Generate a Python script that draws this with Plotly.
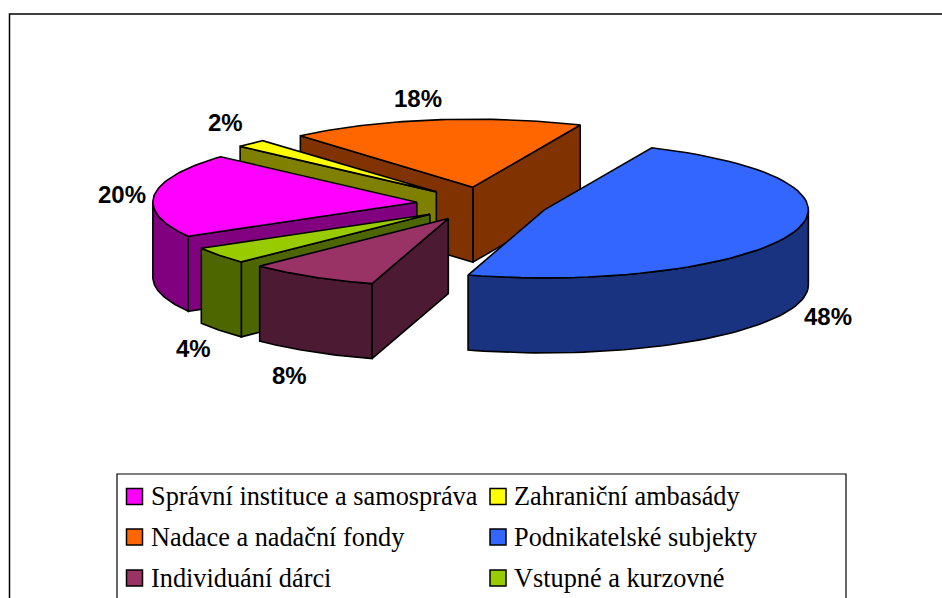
import numpy as np
import plotly.graph_objects as go

categories = ["Nadace a nadační fondy", "Zahraniční ambasády", "Správní instituce a samospráva",
              "Vstupné a kurzovné", "Individuání dárci", "Podnikatelské subjekty"]
values = [18, 2, 20, 4, 8, 48]
top_colors = ["#FF6600", "#FFFF00", "#FF00FF", "#99CC00", "#993366", "#3366FF"]
wall_colors = ["#803300", "#808000", "#800080", "#4D6600", "#4D1A33", "#1A3380"]

legend_order = ["Správní instituce a samospráva", "Zahraniční ambasády", "Nadace a nadační fondy",
                "Podnikatelské subjekty", "Individuání dárci", "Vstupné a kurzovné"]
label_pos = {"Nadace a nadační fondy": (418, 98), "Zahraniční ambasády": (225, 122),
             "Správní instituce a samospráva": (122, 194), "Vstupné a kurzovné": (193, 348),
             "Individuání dárci": (289, 375), "Podnikatelské subjekty": (828, 316)}

CX, CY, RX, RY, DEPTH, PULL = 482.5, 204.0, 264.0, 68.0, 75.0, 0.25
START = 66.0

fig = go.Figure()
BLACK = dict(color="black", width=1.6)


def poly(xs, ys, fill):
    fig.add_trace(go.Scatter(x=xs, y=ys, mode="lines", fill="toself", fillcolor=fill,
                             line=BLACK, hoverinfo="skip", showlegend=False))


a0 = START
for name, val, top, wall in zip(categories, values, top_colors, wall_colors):
    a1 = a0 + val * 3.6
    mid = np.radians((a0 + a1) / 2)
    cx = CX + PULL * RX * np.cos(mid)
    cy = CY - PULL * RY * np.sin(mid)
    lo, hi = sorted((a0, a1))
    t = np.radians(np.linspace(lo, hi, 60))
    ax = cx + RX * np.cos(t)
    ay = cy - RY * np.sin(t)

    def rim(a):
        return cx + RX * np.cos(np.radians(a)), cy - RY * np.sin(np.radians(a))

    # radial walls that face the viewer
    if np.cos(np.radians(lo)) > 0:
        x, y = rim(lo)
        poly([cx, x, x, cx, cx], [cy, y, y + DEPTH, cy + DEPTH, cy], wall)
    if np.cos(np.radians(hi)) < 0:
        x, y = rim(hi)
        poly([cx, x, x, cx, cx], [cy, y, y + DEPTH, cy + DEPTH, cy], wall)
    # outer wall: the part of the rim on the front half
    s, e = max(lo, 180), min(hi, 360)
    if e > s:
        tt = np.radians(np.linspace(s, e, 60))
        wx = cx + RX * np.cos(tt)
        wy = cy - RY * np.sin(tt)
        poly(np.r_[wx, wx[::-1], wx[0]], np.r_[wy, wy[::-1] + DEPTH, wy[0]], wall)
    # top face
    poly(np.r_[cx, ax, cx], np.r_[cy, ay, cy], top)
    a0 = a1

# legend swatches as markers
cols = [(134.5, 149), (498, 512)]
rows = [496.5, 537, 578]
annotations = []
for i, name in enumerate(legend_order):
    mx, tx = cols[i % 2]
    y = rows[i // 2]
    fig.add_trace(go.Scatter(x=[mx], y=[y], mode="markers", name=name, showlegend=False, hoverinfo="skip",
                             marker=dict(symbol="square", size=16, color=top_colors[categories.index(name)],
                                         line=dict(color="black", width=1.5))))
    annotations.append(dict(x=tx, y=y, text=name, xref="x", yref="y", xanchor="left", yanchor="middle",
                            showarrow=False, font=dict(family="Liberation Serif", size=26.3, color="black")))

for name, val in zip(categories, values):
    x, y = label_pos[name]
    annotations.append(dict(x=x, y=y, text=f"{val}%", xref="x", yref="y", showarrow=False,
                            font=dict(family="Liberation Sans", size=24, color="black", weight="bold")))

shapes = [
    dict(type="rect", x0=9.5, y0=14, x1=960, y1=640, line=dict(color="black", width=1.5), layer="below"),
    dict(type="rect", x0=117, y0=474, x1=846, y1=640, line=dict(color="black", width=1.2), layer="below"),
]

fig.update_layout(
    width=942, height=598, autosize=False, margin=dict(l=0, r=0, t=0, b=0),
    paper_bgcolor="white", plot_bgcolor="white", showlegend=False,
    xaxis=dict(range=[0, 942], visible=False, fixedrange=True),
    yaxis=dict(range=[598, 0], visible=False, fixedrange=True),
    annotations=annotations, shapes=shapes,
)
fig.write_html("out.html", config={"displayModeBar": False},
               post_script="document.body.style.margin='0';document.body.style.overflow='hidden';")
